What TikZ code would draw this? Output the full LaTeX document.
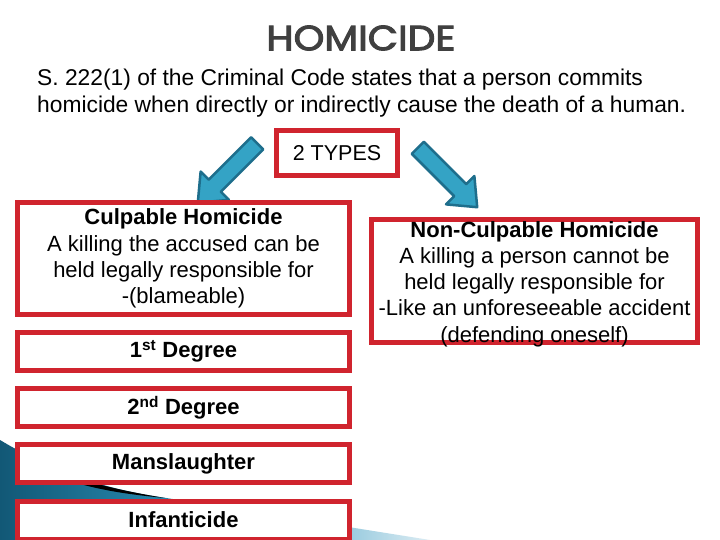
\documentclass[tikz,border=0pt]{standalone}
\usepackage{fontspec}
\setmainfont{Liberation Sans}
\newfontfamily\titlefont[FakeStretch=1.12,FakeBold=3]{Poppins}
\definecolor{boxred}{RGB}{208,36,46}
\definecolor{arrowfill}{RGB}{52,163,197}
\definecolor{arrowline}{RGB}{30,110,140}
\definecolor{swdark}{RGB}{18,88,118}
\definecolor{swmid}{RGB}{45,150,190}
\definecolor{swlight}{RGB}{220,236,243}
\tikzset{
  redbox/.style={draw=boxred,line width=5pt,fill=white,align=center,inner sep=0pt},
  bodytext/.style={font=\fontsize{22}{26.3}\selectfont,align=center,inner sep=0pt},
  bigarrow/.style={fill=arrowfill,draw=arrowline,line width=2.5pt,line join=round},
}
\begin{document}
\begin{tikzpicture}[x=1pt,y=-1pt]
\useasboundingbox (0,0) rectangle (720,540);
\fill[white] (0,0) rectangle (720,540);
% corner swoosh
\shade[left color=swdark,right color=swlight,middle color=swmid]
  (0,440) .. controls (50,470) and (100,488) .. (160,497) -- (430,540) -- (0,540) -- cycle;
\fill[black] (80,479) .. controls (110,488) and (135,493) .. (165,498)
  .. controls (135,495) and (110,492) .. (80,484) -- cycle;
\node[font=\titlefont\fontsize{35}{35}\selectfont,text=black!75] (title) at (361,38) {HOMICIDE};
\node[anchor=west,align=left,inner sep=0pt,font=\fontsize{22.8}{27}\selectfont] (intro) at (37,93)
  {S. 222(1) of the Criminal Code states that a person commits\\
   homicide when directly or indirectly cause the death of a human.};
\node[redbox,minimum width=121pt,minimum height=45pt,font=\fontsize{21.5}{21.5}\selectfont] (types) at (337,153) {2 TYPES};
\foreach \ax/\ay/\ang in {227.5/173/225,447.5/177.5/-45}
  \filldraw[bigarrow,shift={(\ax,\ay)},rotate=\ang]
    (-42,-8.5) -- (18,-8.5) -- (18,-20) -- (42,0) -- (18,20) -- (18,8.5) -- (-42,8.5) -- cycle;
\node[redbox,minimum width=332pt,minimum height=112pt,bodytext] (culp) at (183.5,258.5)
  {\textbf{Culpable Homicide}\\A killing the accused can be\\held legally responsible for\\-(blameable)};
\foreach \lbl [count=\i from 0] in {1\textsuperscript{st} Degree,2\textsuperscript{nd} Degree,Manslaughter,Infanticide}
  \node[redbox,minimum width=332pt,minimum height=38pt,font=\fontsize{22}{24}\selectfont\bfseries] (deg\i) at (183.5,351.5+56.2*\i) {\lbl};
\node[redbox,minimum width=326pt,minimum height=123pt] (nonculp) at (534.5,281) {};
\node[bodytext] (nonculptext) at (534.5,284)
  {\textbf{Non-Culpable Homicide}\\A killing a person cannot be\\held legally responsible for\\-Like an unforeseeable accident\\(defending oneself)};
%\draw[red] (0,0) grid[step=20] (720,540);
\end{tikzpicture}
\end{document}
